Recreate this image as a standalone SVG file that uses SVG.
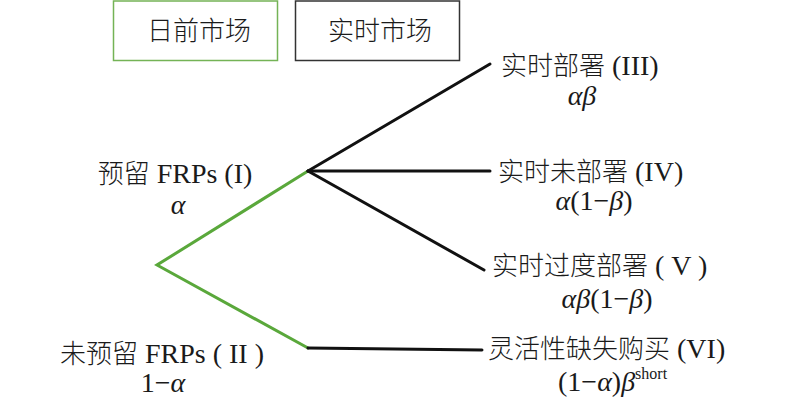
<svg xmlns="http://www.w3.org/2000/svg" width="800" height="409" viewBox="0 0 800 409">
<style>
text{font-family:"Liberation Serif","Noto Sans CJK SC",serif;font-size:28px;fill:#1a1a1a}
.c{font-family:"Noto Sans CJK SC",sans-serif;font-size:26px;font-weight:300}
.i{font-style:italic}
.sup{font-size:16px}
.g{stroke:#5aa83b;stroke-width:3;fill:none;stroke-linecap:round}
.k{stroke:#111;stroke-width:3;fill:none;stroke-linecap:round}
</style>
<rect width="800" height="409" fill="#fff"/>
<g id="legend-dayahead">
<rect x="113.5" y="1" width="164" height="59.5" fill="#fff" stroke="#74b356" stroke-width="1.5"/>
<text x="199" y="40" text-anchor="middle" class="c">日前市场</text>
</g>
<g id="legend-realtime">
<rect x="295.5" y="1" width="164" height="59.5" fill="#fff" stroke="#333" stroke-width="1.5"/>
<text x="380" y="40" text-anchor="middle" class="c">实时市场</text>
</g>
<g id="connectors">
<polyline class="g" points="308,171 157,265 308,348"/>
<line class="k" x1="308" y1="171" x2="490" y2="64"/>
<line class="k" x1="308" y1="171" x2="490" y2="171"/>
<line class="k" x1="308" y1="171" x2="484" y2="270"/>
<line class="k" x1="308" y1="348" x2="482" y2="350"/>
</g>
<g id="node-I">
<text x="175" y="183" text-anchor="middle"><tspan class="c">预留</tspan> FRPs (I)</text>
<text x="178" y="214" text-anchor="middle" class="i">α</text>
</g>
<g id="node-II">
<text x="162" y="363" text-anchor="middle"><tspan class="c">未预留</tspan> FRPs ( II )</text>
<text x="163" y="392" text-anchor="middle">1−<tspan class="i">α</tspan></text>
</g>
<g id="node-III">
<text x="501" y="75"><tspan class="c">实时部署</tspan> (III)</text>
<text x="582" y="105" text-anchor="middle" class="i">αβ</text>
</g>
<g id="node-IV">
<text x="498" y="181"><tspan class="c">实时未部署</tspan> (IV)</text>
<text x="594" y="210" text-anchor="middle"><tspan class="i">α</tspan>(1−<tspan class="i">β</tspan>)</text>
</g>
<g id="node-V">
<text x="492" y="275"><tspan class="c">实时过度部署</tspan> ( V )</text>
<text x="607" y="308" text-anchor="middle"><tspan class="i">αβ</tspan>(1−<tspan class="i">β</tspan>)</text>
</g>
<g id="node-VI">
<text x="488" y="358"><tspan class="c">灵活性缺失购买</tspan> (VI)</text>
<text x="558" y="391">(1−<tspan class="i">α</tspan>)<tspan class="i">β</tspan><tspan class="sup" dy="-12">short</tspan></text>
</g>
</svg>
